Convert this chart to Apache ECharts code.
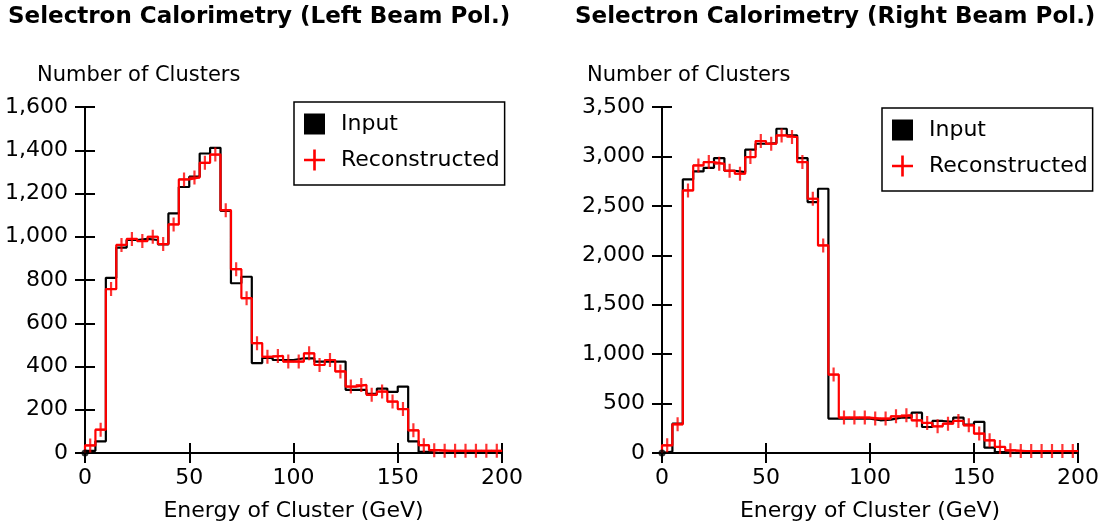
<!DOCTYPE html>
<html>
<head>
<meta charset="utf-8">
<script src="https://cdn.jsdelivr.net/npm/echarts@6/dist/echarts.min.js"></script>
<style>
  html, body { margin: 0; padding: 0; background: #fff; }
  #chart { width: 1112px; height: 529px; }
</style>
</head>
<body>
<div id="chart"></div>
<script>
// 40 bins of 5 GeV, 0..200 GeV
const binWidth = 5;

// left beam polarisation
const inputLeft = [10, 54, 810, 950, 985, 990, 985, 965, 1108, 1230,
  1278, 1385, 1411, 1120, 785, 815, 416, 440, 430, 430,
  438, 438, 423, 423, 423, 292, 292, 273, 298, 283,
  307, 54, 5, 0, 0, 0, 0, 0, 0, 0];
const recoLeft = [35, 108, 758, 962, 990, 980, 1000, 966, 1057, 1265,
  1274, 1342, 1380, 1123, 850, 716, 508, 445, 449, 423,
  423, 461, 407, 430, 377, 307, 315, 269, 284, 238,
  203, 105, 36, 13, 10, 10, 10, 10, 10, 10];

// right beam polarisation
const inputRight = [15, 297, 2767, 2848, 2885, 2983, 2855, 2841, 3068, 3128,
  3135, 3280, 3212, 2983, 2538, 2673, 348, 348, 348, 348,
  331, 338, 358, 358, 408, 263, 324, 314, 358, 287,
  314, 54, 10, 0, 0, 0, 0, 0, 0, 0];
const recoRight = [78, 290, 2656, 2909, 2943, 2926, 2855, 2825, 2993, 3155,
  3128, 3212, 3196, 2943, 2572, 2100, 793, 358, 358, 358,
  348, 348, 371, 381, 331, 304, 270, 297, 324, 280,
  196, 128, 61, 27, 20, 20, 20, 20, 20, 20];

const xTicks = { min: 0, max: 200, interval: 50 };
const yLeft = { min: 0, max: 1600, interval: 200 };
const yRight = { min: 0, max: 3500, interval: 500 };

const FONT = 'DejaVu Sans';
const plusPath = 'path://M4,0H6V6H10V8H6V14H4V8H0V6H4Z';

// histogram outline: left edge of every bin, plus the closing edge
function stepPoints(values) {
  const pts = [{ value: [0, 0] }];
  values.forEach((v, i) => pts.push([i * binWidth, v]));
  pts.push([values.length * binWidth, values[values.length - 1]]);
  return pts;
}
function centerPoints(values) {
  return values.map((v, i) => [i * binWidth + binWidth / 2, v]);
}

function axisPair(gridIndex, range, extra) {
  const line = { lineStyle: { color: '#000', width: 2 } };
  const main = Object.assign({
    type: 'value', gridIndex: gridIndex,
    min: range.min, max: range.max, interval: range.interval,
    axisLine: line,
    axisTick: { length: 10, lineStyle: { color: '#000', width: 2 } },
    axisLabel: { color: '#000', fontFamily: FONT, fontSize: 22 },
    splitLine: { show: false }
  }, extra);
  const inner = {
    type: 'value', gridIndex: gridIndex, position: extra.position,
    min: range.min, max: range.max, interval: range.interval,
    axisLine: { show: false },
    axisTick: { inside: true, length: 10, lineStyle: { color: '#000', width: 2 } },
    axisLabel: { show: false },
    splitLine: { show: false }
  };
  return [main, inner];
}

function xPair(gridIndex) {
  return axisPair(gridIndex, xTicks, {
    position: 'bottom',
    axisLabel: { color: '#000', fontFamily: FONT, fontSize: 22, margin: 14 },
    name: 'Energy of Cluster (GeV)',
    nameLocation: 'middle',
    nameGap: 47,
    nameTextStyle: { color: '#000', fontFamily: FONT, fontSize: 22 }
  });
}
function yPair(gridIndex, range) {
  return axisPair(gridIndex, range, {
    position: 'left',
    axisLabel: { color: '#000', fontFamily: FONT, fontSize: 22, margin: 17 }
  });
}

function panelSeries(xi, yi, input, reco) {
  return [
    {
      name: 'Input', type: 'line', step: 'end',
      xAxisIndex: xi, yAxisIndex: yi,
      data: stepPoints(input),
      symbol: 'none', color: '#000',
      lineStyle: { color: '#000', width: 2.2 },
      silent: true, z: 2
    },
    {
      name: 'Reconstructed', type: 'line', step: 'end',
      xAxisIndex: xi, yAxisIndex: yi,
      data: stepPoints(reco),
      symbol: 'none', color: '#ff0000',
      lineStyle: { color: '#ff0000', width: 2.2 },
      silent: true, z: 3
    },
    {
      name: 'Reconstructed', type: 'scatter',
      xAxisIndex: xi, yAxisIndex: yi,
      data: centerPoints(reco),
      symbol: plusPath, symbolSize: [11, 14],
      itemStyle: { color: '#ff0000' },
      silent: true, z: 4
    },
    {
      // small dot where the axes meet
      name: 'origin', type: 'scatter',
      xAxisIndex: xi, yAxisIndex: yi,
      data: [[xTicks.min, 0]],
      symbol: 'circle', symbolSize: 7,
      itemStyle: { color: '#000' },
      silent: true, z: 5
    }
  ];
}

function legendAt(left, top) {
  return {
    left: left, top: top, orient: 'vertical',
    borderColor: '#000', borderWidth: 1.5, borderRadius: 0,
    padding: [11, 5, 14, 10], itemGap: 14,
    itemWidth: 21, itemHeight: 21,
    selectedMode: false,
    textStyle: { color: '#000', fontFamily: FONT, fontSize: 22, padding: [0, 0, 0, 11] },
    data: [
      { name: 'Input', icon: 'rect', itemStyle: { color: '#000' } },
      { name: 'Reconstructed', icon: 'path://M7,0H9V7H16V9H9V16H7V9H0V7H7Z', itemStyle: { color: '#ff0000' } }
    ]
  };
}

const titleStyle = { color: '#000', fontFamily: FONT, fontSize: 23, fontWeight: 'bold' };
const nameStyle = { color: '#000', fontFamily: FONT, fontSize: 21, fontWeight: 'normal' };

const chart = echarts.init(document.getElementById('chart'));
chart.setOption({
  animation: false,
  backgroundColor: '#fff',
  title: [
    { text: 'Selectron Calorimetry (Left Beam Pol.)', left: 8, top: 6, padding: 0, textStyle: titleStyle },
    { text: 'Selectron Calorimetry (Right Beam Pol.)', left: 575, top: 6, padding: 0, textStyle: titleStyle },
    { text: 'Number of Clusters', left: 37, top: 65, padding: 0, textStyle: nameStyle },
    { text: 'Number of Clusters', left: 587, top: 65, padding: 0, textStyle: nameStyle }
  ],
  legend: [legendAt(294, 102), legendAt(882, 108)],
  grid: [
    { left: 85, right: 610, top: 107, bottom: 76 },
    { left: 662, right: 34, top: 107, bottom: 76 }
  ],
  xAxis: [].concat(xPair(0), xPair(1)),
  yAxis: [].concat(yPair(0, yLeft), yPair(1, yRight)),
  series: [].concat(
    panelSeries(0, 0, inputLeft, recoLeft),
    panelSeries(2, 2, inputRight, recoRight)
  )
});
</script>
</body>
</html>
